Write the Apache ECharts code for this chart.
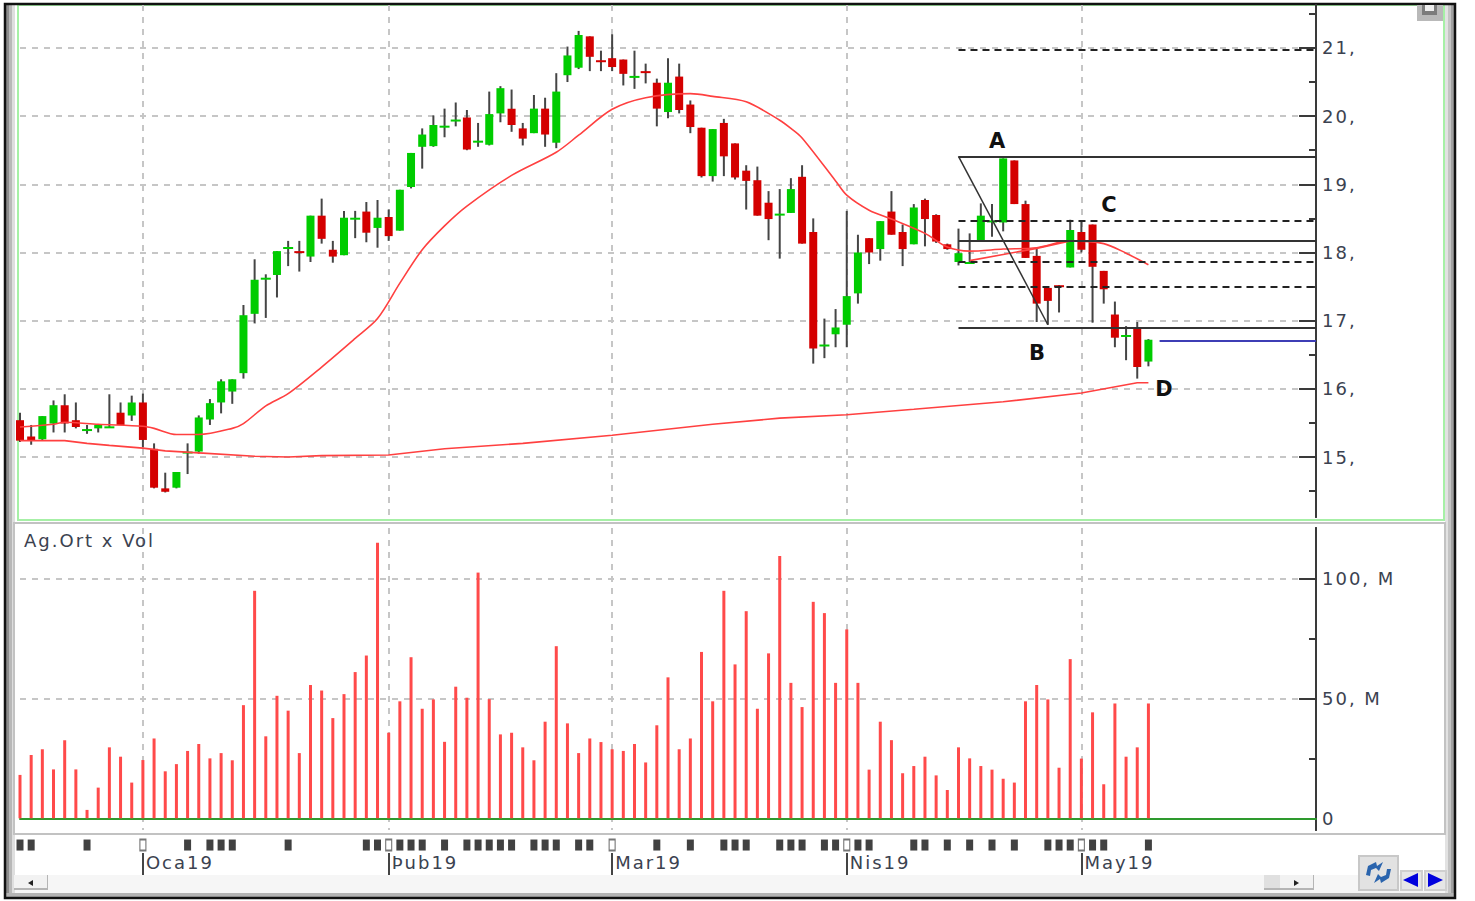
<!DOCTYPE html>
<html>
<head>
<meta charset="utf-8">
<title>Ag.Ort x Vol</title>
<style>
  html, body { margin: 0; padding: 0; background: #fff; }
  #chart { width: 1475px; height: 901px; }
  #chart text { letter-spacing: 2px; }
</style>
<script src="https://cdn.jsdelivr.net/npm/echarts@6/dist/echarts.min.js"></script>
</head>
<body>
<div id="chart"></div>
<script>
// month starts on the session axis
const monthIdx = [11, 33, 53, 74, 95]
const monthLabels = ['Oca19', 'Þub19', 'Mar19', 'Nis19', 'May19']
const sessionCount = 117

// daily candles
const candleOpen = [15.54,15.30,15.26,15.49,15.76,15.54,15.40,15.42,15.44,15.65,15.61,15.80,15.12,14.54,14.55,15.07,15.08,15.55,15.80,15.96,
  16.23,17.10,17.62,17.67,18.07,18.02,17.94,18.54,18.04,17.96,18.50,18.60,18.36,18.52,18.32,18.96,19.55,19.56,19.85,19.94,
  19.98,19.63,19.58,20.04,20.11,19.82,19.75,20.11,19.61,20.60,20.71,21.17,20.82,20.85,20.83,20.58,20.66,20.49,20.06,20.58,
  20.17,19.83,19.12,19.90,19.60,19.20,19.06,18.73,18.56,18.58,19.11,18.30,16.64,16.80,16.94,17.40,18.21,18.05,18.60,18.30,
  18.12,18.77,18.55,18.12,17.86,17.85,18.17,18.46,18.44,19.35,18.71,17.95,17.48,17.52,17.78,18.30,18.41,17.73,17.09,16.78,
  16.89,16.40]
const candleClose = [15.24,15.24,15.60,15.76,15.49,15.44,15.41,15.47,15.45,15.47,15.80,15.25,14.55,14.49,14.78,15.08,15.58,15.79,16.11,16.14,
  17.08,17.60,17.63,18.02,18.08,18.01,18.54,18.20,17.94,18.51,18.51,18.29,18.51,18.24,18.92,19.46,19.73,19.87,19.86,19.95,
  19.51,19.64,20.03,20.41,19.87,19.67,20.11,19.73,20.36,20.89,21.19,20.87,20.81,20.72,20.62,20.59,20.65,20.11,20.49,20.09,
  19.84,19.12,19.81,19.41,19.10,19.05,18.54,18.49,18.57,18.93,18.13,16.59,16.65,16.90,17.36,18.00,18.00,18.46,18.26,18.05,
  18.66,18.49,18.16,18.05,17.99,17.86,18.54,18.47,19.38,18.71,17.92,17.25,17.29,17.51,18.33,18.04,17.79,17.46,16.75,16.79,
  16.32,16.72]
const candleLow = [15.22,15.18,15.25,15.36,15.36,15.42,15.34,15.36,15.43,15.47,15.53,15.14,14.54,14.48,14.54,14.75,15.05,15.47,15.64,15.78,
  16.15,16.96,17.04,17.34,17.80,17.72,17.86,18.13,17.85,17.96,18.21,18.15,18.07,18.17,18.32,18.94,19.23,19.55,19.69,19.85,
  19.50,19.55,19.57,19.91,19.77,19.57,19.75,19.55,19.53,20.50,20.69,20.66,20.66,20.66,20.45,20.40,20.48,19.85,19.97,20.04,
  19.75,19.10,19.04,19.12,19.07,18.63,18.54,18.18,17.91,18.58,18.13,16.37,16.45,16.61,16.61,17.25,17.83,17.88,18.26,17.80,
  18.12,18.09,18.14,18.04,17.81,17.85,18.17,18.23,18.31,18.71,17.92,16.98,16.94,17.12,17.78,18.00,16.97,17.25,16.61,16.42,
  16.15,16.33]
const candleHigh = [15.65,15.47,15.60,15.83,15.92,15.80,15.47,15.47,15.92,15.80,15.90,15.93,15.20,14.77,14.78,15.20,15.61,15.85,16.14,16.14,
  17.23,17.90,17.68,18.02,18.17,18.17,18.54,18.79,18.17,18.61,18.61,18.74,18.77,18.63,18.92,19.46,19.82,20.01,20.11,20.20,
  20.09,19.90,20.36,20.44,20.39,19.90,20.31,20.27,20.63,21.02,21.25,21.17,20.96,21.20,20.83,20.96,20.77,20.55,20.85,20.77,
  20.23,19.83,19.81,19.96,19.60,19.28,19.26,18.90,18.93,19.09,19.28,18.50,17.03,17.17,18.61,18.26,18.21,18.46,18.90,18.41,
  18.71,18.79,18.56,18.13,18.35,18.28,18.72,18.71,19.38,19.35,18.76,18.07,17.48,17.52,18.48,18.46,18.41,17.73,17.28,16.92,
  16.98,16.73]

// volume in millions
const volumeValues = [18.1,26.4,28.8,20.4,32.6,20.4,3.5,12.8,29.6,25.7,14.9,24.3,33.3,19.6,22.6,28.1,31,25,27.2,24.2,
  47.2,94.9,34.2,51.1,44.9,27.2,55.6,53.3,41.8,51.8,61,67.9,114.9,35.7,48.8,67.2,45.7,49.6,31.9,54.9,
  50.3,102.5,49.7,35,35.7,29.6,24.2,40.3,71.8,39.6,27.2,33.3,31.8,28.8,28.1,31,23.3,38.8,58.8,28.8,
  33.3,69.4,48.8,94.9,64.2,86.4,45.7,68.8,109.4,56.5,46.4,90.3,85.6,56.5,78.8,56.5,20.3,40.3,32.6,18.8,
  21.8,25.7,17.9,11.8,29.6,25,21.8,20.3,16.5,14.9,48.8,55.6,49.6,21.1,66.4,24.9,44.2,14.2,47.9,25.7,
  29.6,47.9]

// moving averages, read at the sessions where they bend
const maShortIdx = [0,3,4,7,11,12,14,16,19,20,22,24,27,30,32,34,36,38,40,44,48,50,53,56,60,62,65,68,69,70,73,74,76,78,81,83,85,88,91,94,97,99,101]
const maShortVal = [15.44,15.48,15.51,15.48,15.45,15.42,15.33,15.33,15.42,15.49,15.75,15.93,16.32,16.74,17.03,17.55,18.04,18.39,18.68,19.13,19.47,19.72,20.10,20.27,20.33,20.29,20.21,19.94,19.82,19.68,19.05,18.84,18.62,18.49,18.28,18.08,18.02,18.05,18.07,18.17,18.13,17.99,17.82]
const maLongIdx = [0,4,6,8,11,13,16,21,24,27,33,38,45,53,62,68,74,80,88,95,100,101]
const maLongVal = [15.24,15.24,15.20,15.17,15.13,15.09,15.06,15.01,15.00,15.02,15.03,15.12,15.20,15.32,15.48,15.57,15.62,15.70,15.81,15.94,16.09,16.09]
const trendIdx = [85,88,91,94]
const trendVal = [17.88,17.97,18.06,18.17]

// drawn levels: fibonacci block and the A-B leg
const levelStart = 84
const levelEnd = 116
const dashedLevels = [20.98,18.46,17.86,17.49]
const solidLevels = [19.41,18.17,16.89]
const legFrom = [84,19.41]
const legTo = [92,16.94]
const closeLineIdx = 102
const closeLineVal = 16.70

// session flags under the volume pane
const flagIdx = [0,1,6,15,17,18,19,24,31,32,34,35,36,38,40,41,42,43,44,46,47,48,50,51,57,60,63,64,65,68,69,70,72,73,75,76,80,81,83,85,87,89,92,93,94,96,97,101]

const priceTicks = [15,16,17,18,19,20,21]
const priceMinorTicks = [14.5,15.5,16.5,17.5,18.5,19.5,20.5,21.5]
const volumeLabelValues = [0,50,100]
const volumeTicks = [50,100]
const volumeMinorTicks = [25,75]
const volumeTickLabels = ['0','50, M','100, M']

const categories = Array.from({ length: sessionCount }, (_, i) => String(i))
const textColor = '#3b4250'
const fontFamily = '"DejaVu Sans", Verdana, sans-serif'
const gridLine = { show: true, lineStyle: { color: '#c6c6c6', width: 2, type: [6, 6] } }
const isMonth = index => monthIdx.includes(index)

function renderCandle(params, api) {
  const idx = api.value(0)
  const open = api.value(1)
  const close = api.value(2)
  const x = api.coord([idx, open])[0]
  const top = api.coord([idx, Math.max(open, close)])[1]
  const bottom = api.coord([idx, Math.min(open, close)])[1]
  const high = api.coord([idx, api.value(4)])[1]
  const low = api.coord([idx, api.value(3)])[1]
  const doji = bottom - top < 3
  const bodyWidth = doji ? 10 : 8
  return {
    type: 'group',
    children: [{
      type: 'line',
      shape: { x1: x, y1: high, x2: x, y2: low },
      style: { stroke: '#454545', lineWidth: 2 }
    }, {
      type: 'rect',
      shape: { x: x - bodyWidth / 2, y: top, width: bodyWidth, height: Math.max(bottom - top, 2) },
      style: { fill: close >= open ? '#00cc00' : '#d40000' }
    }]
  }
}

function xAxisFor(gridIndex, extra) {
  return Object.assign({
    type: 'category',
    gridIndex,
    data: categories,
    boundaryGap: false,
    axisLine: { show: false },
    axisTick: { show: false },
    axisLabel: { show: false },
    splitLine: Object.assign({ interval: i => isMonth(i) }, gridLine)
  }, extra)
}

function rightAxis(gridIndex, min, max, values, tickLength, labelValues, labelFormatter) {
  return {
    type: 'value',
    gridIndex,
    position: 'right',
    min,
    max,
    axisLine: { show: true, onZero: false, lineStyle: { color: '#3a3a3a', width: 2 } },
    axisTick: { show: true, inside: true, length: tickLength, customValues: values, lineStyle: { color: '#3a3a3a', width: 2 } },
    axisLabel: labelFormatter ? {
      show: true,
      customValues: labelValues,
      formatter: labelFormatter,
      margin: 6,
      align: 'left',
      fontFamily,
      fontSize: 18,
      color: textColor
    } : { show: false },
    splitLine: labelFormatter ? gridLine : { show: false }
  }
}

const dashedStyle = { color: '#222', width: 2, type: [7, 5] }
const solidStyle = { color: '#333', width: 2, type: 'solid' }
const levelLines = [
  ...dashedLevels.map(v => [{ coord: [levelStart, v], lineStyle: dashedStyle }, { coord: [levelEnd, v] }]),
  ...solidLevels.map(v => [{ coord: [levelStart, v], lineStyle: solidStyle }, { coord: [levelEnd, v] }]),
  [{ coord: legFrom, lineStyle: { color: '#333', width: 1.5, type: 'solid' } }, { coord: legTo }],
  [{ coord: [closeLineIdx, closeLineVal], lineStyle: { color: '#3d3db5', width: 2, type: 'solid' } }, { coord: [levelEnd, closeLineVal] }]
]

function maSeries(name, idx, val, smooth, extra) {
  return Object.assign({
    name,
    type: 'line',
    xAxisIndex: 0,
    yAxisIndex: 0,
    data: idx.map((d, i) => [d, val[i]]),
    showSymbol: false,
    smooth,
    lineStyle: { color: '#ff4040', width: 1.6 },
    z: 3
  }, extra)
}

function box(x, y, width, height, fill, z) {
  return { type: 'rect', silent: true, z: z || 0, shape: { x, y, width, height }, style: { fill } }
}
function frame(x, y, width, height, stroke, lineWidth) {
  return { type: 'rect', silent: true, z: 0, shape: { x, y, width, height }, style: { fill: 'none', stroke, lineWidth } }
}
function poly(points, fill) {
  return { type: 'polygon', silent: true, z: 5, shape: { points }, style: { fill } }
}
function label(text, x, y, font, fill, align) {
  return { type: 'text', silent: true, z: 6, x, y, style: { text, font, fill, textAlign: align || 'center', textVerticalAlign: 'middle' } }
}

const chrome = [
  box(6, 5, 3, 888, '#8c8c8c'), box(9, 5, 3, 888, '#b8b8b8'), box(12, 5, 3, 888, '#dedede'),
  box(1445, 5, 3, 888, '#e2e2e2'), box(1448, 5, 3, 888, '#c4c4c4'), box(1451, 5, 3, 888, '#a0a0a0'),
  frame(18, 5, 1426, 515, '#a6f0a6', 2),
  frame(14, 523, 1431, 311, '#c2c2c2', 2),
  box(15, 875, 1430, 18, '#f6f6f6'),
  box(6, 893, 1448, 5, '#b4b4b4'),
  frame(5, 4, 1450, 894, '#111', 2.5),
  // scrollbar buttons
  box(14, 875, 34, 15, '#b5b5b5', 1), box(14, 875, 33, 13, '#f2f2f2', 1),
  poly([[33, 880], [33, 886], [28, 883]], '#222'),
  box(1264, 875, 50, 15, '#b5b5b5', 1), box(1264, 875, 49, 13, '#f2f2f2', 1),
  box(1264, 875, 16, 13, '#e0e0e0', 1),
  poly([[1294, 880], [1294, 886], [1299, 883]], '#222'),
  // refresh and paging buttons
  box(1358, 855, 41, 36, '#c8c8c8', 1), box(1360, 857, 37, 32, '#e2e2e2', 1),
  poly([[1366, 875], [1368, 866], [1376, 862], [1377, 866], [1383, 862], [1379, 871], [1376, 868], [1371, 870], [1370, 876]], '#2a64ad'),
  poly([[1391, 869], [1389, 878], [1381, 883], [1380, 879], [1374, 883], [1378, 874], [1381, 877], [1386, 875], [1387, 869]], '#2a64ad'),
  box(1400, 870, 23, 21, '#cfcfcf', 1), box(1402, 872, 19, 17, '#e6e6e6', 1),
  box(1424, 870, 23, 21, '#cfcfcf', 1), box(1426, 872, 19, 17, '#e6e6e6', 1),
  poly([[1418, 873], [1418, 887], [1403, 880]], '#0000dd'),
  poly([[1428, 873], [1428, 887], [1443, 880]], '#0000dd'),
  // pane button top right
  box(1417, 5, 26, 16, '#b9b9b9', 1), box(1422, 5, 15, 10, '#7c7c7c', 1), box(1425, 5, 9, 6, '#eeeeee', 1),
  // pane title and wave letters
  label('Ag.Ort x Vol', 24, 540, '18px ' + fontFamily, textColor, 'left'),
  label('A', 998, 141, 'bold 21px ' + fontFamily, '#111'),
  label('B', 1038, 353, 'bold 21px ' + fontFamily, '#111'),
  label('C', 1110, 205, 'bold 21px ' + fontFamily, '#111'),
  label('D', 1165, 389, 'bold 21px ' + fontFamily, '#111')
]

const chart = echarts.init(document.getElementById('chart'), null, { renderer: 'svg' })
chart.setOption({
  animation: false,
  backgroundColor: '#fff',
  graphic: { elements: chrome },
  grid: [
    { left: 20, right: 159, top: 5, height: 512 },
    { left: 20, right: 159, top: 528, height: 302 },
    { left: 20, right: 159, top: 838, height: 37 }
  ],
  xAxis: [
    xAxisFor(0),
    xAxisFor(1, { axisLine: { show: true, onZero: true, lineStyle: { color: '#2e9a2e', width: 2 } } }),
    xAxisFor(2, {
      splitLine: { show: false },
      axisTick: { show: true, inside: true, length: 22, interval: i => isMonth(i), lineStyle: { color: '#444', width: 2 } },
      axisLabel: {
        show: true,
        inside: true,
        interval: i => isMonth(i),
        formatter: (value, index) => monthLabels[monthIdx.indexOf(index)] || '',
        align: 'left',
        verticalAlign: 'middle',
        margin: 13,
        padding: [0, 0, 0, 3],
        fontFamily,
        fontSize: 18,
        color: textColor
      }
    })
  ],
  yAxis: [
    rightAxis(0, 14.12, 21.63, priceTicks, 17, priceTicks, v => v + ','),
    rightAxis(0, 14.12, 21.63, priceMinorTicks, 7),
    rightAxis(1, -4.88, 121.1, volumeTicks, 17, volumeLabelValues, v => volumeTickLabels[volumeLabelValues.indexOf(v)]),
    rightAxis(1, -4.88, 121.1, volumeMinorTicks, 7),
    { type: 'value', gridIndex: 2, min: 0, max: 1, show: false }
  ],
  series: [
    {
      name: 'Fiyat',
      type: 'custom',
      xAxisIndex: 0,
      yAxisIndex: 0,
      clip: false,
      renderItem: renderCandle,
      encode: { x: 0, y: [1, 2, 3, 4] },
      data: candleOpen.map((o, i) => [i, o, candleClose[i], candleLow[i], candleHigh[i]]),
      z: 2
    },
    maSeries('Ort1', maShortIdx, maShortVal, 0.3, {
      markLine: { silent: true, symbol: 'none', animation: false, label: { show: false }, data: levelLines }
    }),
    maSeries('Ort2', maLongIdx, maLongVal, false),
    maSeries('Trend', trendIdx, trendVal, false),
    {
      name: 'Ag.Ort x Vol',
      type: 'bar',
      xAxisIndex: 1,
      yAxisIndex: 2,
      barWidth: 3,
      itemStyle: { color: '#ff4a4a' },
      data: volumeValues
    },
    {
      name: 'Flags',
      type: 'scatter',
      xAxisIndex: 2,
      yAxisIndex: 4,
      symbol: 'rect',
      symbolSize: [7, 11],
      itemStyle: { color: '#111' },
      data: flagIdx.map(i => [i, 0.81])
    },
    {
      name: 'MonthFlags',
      type: 'scatter',
      xAxisIndex: 2,
      yAxisIndex: 4,
      symbol: 'rect',
      symbolSize: [6, 11],
      itemStyle: { color: '#fff', borderColor: '#555', borderWidth: 1.5 },
      data: monthIdx.map(i => [i, 0.81])
    }
  ]
})
</script>
</body>
</html>
